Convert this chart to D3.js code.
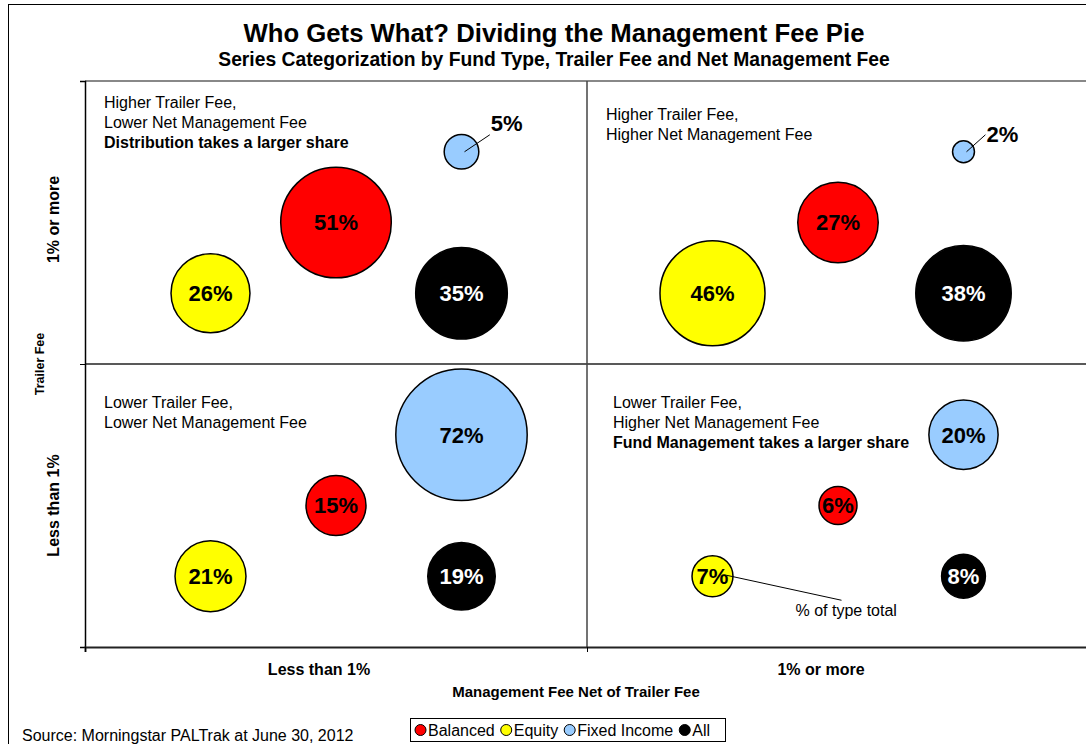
<!DOCTYPE html>
<html>
<head>
<meta charset="utf-8">
<script src="https://cdn.jsdelivr.net/npm/d3@7.9.0/dist/d3.min.js"></script>
<style>
  body { margin: 0; background: #fff; }
  svg { display: block; font-family: 'Liberation Sans', Arial, sans-serif; }
</style>
</head>
<body>
<svg id="chart" width="1086" height="744"></svg>
<script>
// fund types and their colours
const fundTypes = ['Balanced', 'Equity', 'Fixed Income', 'All'];
const typeColors = ['#ff0000', '#ffff00', '#99ccff', '#000000'];

// bubble coordinates (chart units) and % of type total, one entry per quadrant:
// [high trailer / low net, high trailer / high net, low trailer / low net, low trailer / high net]
const balancedX = [2, 6, 2, 6];
const balancedY = [6, 6, 2, 2];
const balancedPct = [51, 27, 15, 6];

const equityX = [1, 5, 1, 5];
const equityY = [5, 5, 1, 1];
const equityPct = [26, 46, 21, 7];

const fixedX = [3, 7, 3, 7];
const fixedY = [7, 7, 3, 3];
const fixedPct = [5, 2, 72, 20];

const allX = [3, 7, 3, 7];
const allY = [5, 5, 1, 1];
const allPct = [35, 38, 19, 8];

const xCategories = ['Less than 1%', '1% or more'];
const yCategories = ['Less than 1%', '1% or more'];

const quadrantNotes = [
    ['Higher Trailer Fee,', 'Lower Net Management Fee', 'Distribution takes a larger share'],
    ['Higher Trailer Fee,', 'Higher Net Management Fee'],
    ['Lower Trailer Fee,', 'Lower Net Management Fee'],
    ['Lower Trailer Fee,', 'Higher Net Management Fee', 'Fund Management takes a larger share']
];

const svg = d3.select('#chart');

const x = d3.scaleLinear().domain([0, 8]).range([85, 1089]);
const y = d3.scaleLinear().domain([0, 8]).range([647, 81]);
const r = d3.scaleSqrt().domain([0, 72]).range([0, 65.7]);

// outer frame
svg.append('rect')
    .attr('x', 8.5).attr('y', 4.5)
    .attr('width', 1100).attr('height', 760)
    .attr('fill', 'none').attr('stroke', '#000').attr('stroke-width', 1);

// title
svg.append('text')
    .attr('x', 554).attr('y', 42)
    .attr('text-anchor', 'middle')
    .attr('font-weight', 'bold').attr('font-size', 25.7)
    .text('Who Gets What? Dividing the Management Fee Pie');
svg.append('text')
    .attr('x', 554).attr('y', 66)
    .attr('text-anchor', 'middle')
    .attr('font-weight', 'bold').attr('font-size', 19.3)
    .text('Series Categorization by Fund Type, Trailer Fee and Net Management Fee');

// plot border top (grey) and quadrant dividers
svg.append('line')
    .attr('x1', x(0)).attr('x2', x(8))
    .attr('y1', y(8)).attr('y2', y(8))
    .attr('stroke', '#888').attr('stroke-width', 2);
svg.append('line')
    .attr('x1', x(0)).attr('x2', x(8))
    .attr('y1', y(4)).attr('y2', y(4))
    .attr('stroke', '#222').attr('stroke-width', 1.5);
svg.append('line')
    .attr('x1', x(4)).attr('x2', x(4))
    .attr('y1', y(8)).attr('y2', y(0))
    .attr('stroke', '#444').attr('stroke-width', 1.5);

// axes
const yAxis = svg.append('g')
    .attr('transform', `translate(${x(0)},0)`)
    .call(d3.axisLeft(y).tickValues([0, 4, 8]).tickSize(5).tickFormat(''));
const xAxis = svg.append('g')
    .attr('transform', `translate(0,${y(0)})`)
    .call(d3.axisBottom(x).tickValues([0, 4, 8]).tickSize(5).tickFormat(''));
[xAxis, yAxis].forEach((g) => {
    g.select('.domain').attr('stroke', '#000').attr('stroke-width', 1.5);
    g.selectAll('.tick line').attr('stroke', '#000');
});
xAxis.select('.domain').attr('stroke', '#222').attr('stroke-width', 2);

// quadrant notes
const notePos = [[104, 108], [606, 120], [104, 408], [613, 408]];
quadrantNotes.forEach((lines, q) => {
    const t = svg.append('text')
        .attr('x', notePos[q][0]).attr('y', notePos[q][1])
        .attr('font-size', 16);
    lines.forEach((line, i) => {
        t.append('tspan')
            .attr('x', notePos[q][0])
            .attr('dy', i === 0 ? 0 : 20)
            .attr('font-weight', i === 2 ? 'bold' : 'normal')
            .text(line);
    });
});

// bubbles
const series = [
    { xs: balancedX, ys: balancedY, pct: balancedPct },
    { xs: equityX, ys: equityY, pct: equityPct },
    { xs: fixedX, ys: fixedY, pct: fixedPct },
    { xs: allX, ys: allY, pct: allPct }
];

const bubbles = [];
series.forEach((s, si) => {
    s.pct.forEach((v, q) => {
        bubbles.push({ type: fundTypes[si], color: typeColors[si], x: s.xs[q], y: s.ys[q], value: v });
    });
});

svg.append('g').selectAll('circle')
    .data(bubbles)
    .enter()
    .append('circle')
    .attr('cx', (d) => x(d.x))
    .attr('cy', (d) => y(d.y))
    .attr('r', (d) => r(d.value))
    .attr('fill', (d) => d.color)
    .attr('stroke', '#000')
    .attr('stroke-width', 1.5);

const labels = svg.append('g')
    .attr('font-weight', 'bold')
    .attr('font-size', 22);

bubbles.forEach((d) => {
    const cx = x(d.x);
    const cy = y(d.y);
    const rad = r(d.value);
    if (d.value <= 5) {
        // too small: label outside with a leader line
        labels.append('line')
            .attr('x1', cx + 3).attr('y1', cy)
            .attr('x2', cx + rad + 11).attr('y2', cy - 17)
            .attr('stroke', '#000').attr('stroke-width', 1);
        labels.append('text')
            .attr('x', cx + rad + 12)
            .attr('y', cy - 1.7 * rad + 9)
            .text(d.value + '%');
    } else {
        labels.append('text')
            .attr('x', cx).attr('y', cy)
            .attr('dy', '0.36em')
            .attr('text-anchor', 'middle')
            .attr('fill', d.type === 'All' ? '#fff' : '#000')
            .text(d.value + '%');
    }
});

// "% of type total" call-out on the small equity bubble
svg.append('line')
    .attr('x1', x(5) + 14).attr('y1', y(1) - 1)
    .attr('x2', x(5) + 129).attr('y2', y(1) + 24)
    .attr('stroke', '#000').attr('stroke-width', 1);
svg.append('text')
    .attr('x', x(5) + 83).attr('y', y(1) + 40)
    .attr('font-size', 16)
    .text('% of type total');

// axis category labels
svg.selectAll('.xcat')
    .data(xCategories)
    .enter()
    .append('text')
    .attr('class', 'xcat')
    .attr('x', (_, i) => x(2 + i * 4) - 17)
    .attr('y', 675)
    .attr('text-anchor', 'middle')
    .attr('font-weight', 'bold').attr('font-size', 16)
    .text((d) => d);

svg.selectAll('.ycat')
    .data(yCategories)
    .enter()
    .append('text')
    .attr('class', 'ycat')
    .attr('transform', (_, i) => `translate(59,${y(2 + i * 4) - (i ? 3 : 0)}) rotate(-90)`)
    .attr('text-anchor', 'middle')
    .attr('font-weight', 'bold').attr('font-size', 16)
    .text((d) => d);

svg.append('text')
    .attr('x', x(4) - 11).attr('y', 697)
    .attr('text-anchor', 'middle')
    .attr('font-weight', 'bold').attr('font-size', 15)
    .text('Management Fee Net of Trailer Fee');

svg.append('text')
    .attr('transform', `translate(44,${y(4)}) rotate(-90)`)
    .attr('text-anchor', 'middle')
    .attr('font-weight', 'bold').attr('font-size', 12.5)
    .text('Trailer Fee');

// source
svg.append('text')
    .attr('x', 22).attr('y', 741)
    .attr('font-size', 16)
    .text('Source: Morningstar PALTrak at June 30, 2012');

// legend
const legend = svg.append('g');
legend.append('rect')
    .attr('x', 410.5).attr('y', 718.5)
    .attr('width', 315).attr('height', 23)
    .attr('fill', '#fff').attr('stroke', '#000');
let lx = 415;
fundTypes.forEach((name, i) => {
    legend.append('circle')
        .attr('cx', lx + 5.5).attr('cy', 730)
        .attr('r', 5.5)
        .attr('fill', typeColors[i])
        .attr('stroke', '#000');
    const t = legend.append('text')
        .attr('x', lx + 13).attr('y', 736)
        .attr('font-size', 16)
        .text(name);
    lx += 13 + t.node().getComputedTextLength() + 6;
});
</script>
</body>
</html>
